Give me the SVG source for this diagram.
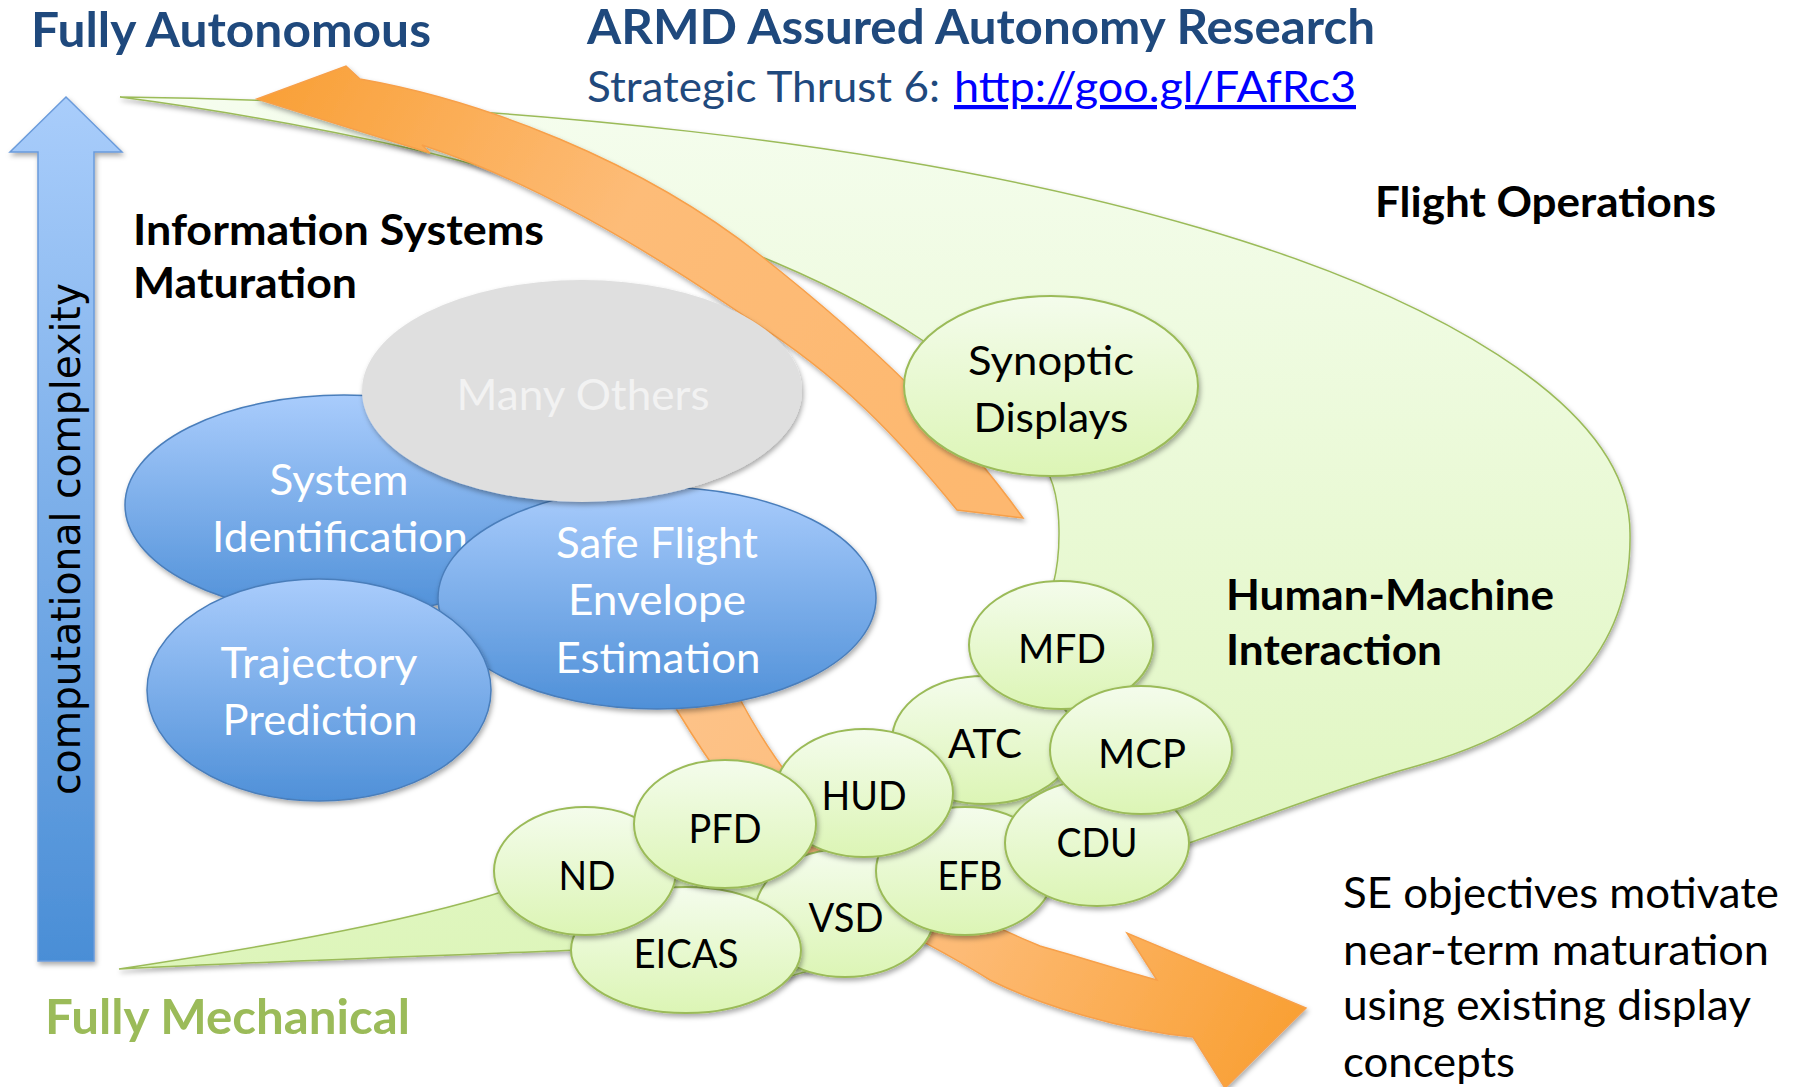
<svg xmlns="http://www.w3.org/2000/svg" width="1798" height="1087" viewBox="0 0 1798 1087">
<defs>
<style>
.t{font-family:Lato,"Open Sans","Liberation Sans",sans-serif;}
.b{font-weight:700;}
.ttl{font-size:48px;fill:#1F497D;font-weight:700;}
.sub{font-size:42px;fill:#1F497D;}
.link{font-size:42px;fill:#0000FF;text-decoration:underline;}
.hd{font-size:42px;fill:#000;font-weight:700;}
.lbw{font-size:42px;fill:#FFFFFF;}
.lbg{font-size:42px;fill:#F2F2F2;}
.lbk{font-size:41px;fill:#000;}
.body{font-size:42px;fill:#000;}
.gc{fill:url(#gGreen);stroke:#9BBB59;stroke-width:2;filter:url(#sh);}
.bc{fill:url(#gBlue);stroke:#4A7EBB;stroke-width:1.5;filter:url(#sh);}
.orange{stroke:#F7A04A;stroke-width:1.5;filter:url(#sh);}
</style>
<filter id="sh" x="-20%" y="-20%" width="140%" height="140%">
<feDropShadow dx="1.5" dy="3" stdDeviation="2.5" flood-color="#000" flood-opacity="0.33"/>
</filter>
<linearGradient id="gGreen" x1="0" y1="0" x2="0" y2="1">
<stop offset="0" stop-color="#F4FCEC"/><stop offset="1" stop-color="#DCF5B5"/>
</linearGradient>
<linearGradient id="gBlue" x1="0" y1="0" x2="0" y2="1">
<stop offset="0" stop-color="#A9CCFC"/><stop offset="1" stop-color="#4F90D8"/>
</linearGradient>
<linearGradient id="gBig" gradientUnits="userSpaceOnUse" x1="0" y1="97" x2="0" y2="970">
<stop offset="0" stop-color="#F5FDEE"/><stop offset="1" stop-color="#DDF5BA"/>
</linearGradient>
<linearGradient id="gAxis" gradientUnits="userSpaceOnUse" x1="0" y1="97" x2="0" y2="961">
<stop offset="0" stop-color="#A9CDFB"/><stop offset="1" stop-color="#4A8ED6"/>
</linearGradient>
<linearGradient id="gOrTop" gradientUnits="userSpaceOnUse" x1="257" y1="99" x2="1000" y2="500">
<stop offset="0" stop-color="#F9A037"/><stop offset="0.45" stop-color="#FDBC78"/><stop offset="1" stop-color="#FDB86F"/>
</linearGradient>
<linearGradient id="gOrBot" gradientUnits="userSpaceOnUse" x1="700" y1="700" x2="1306" y2="1008">
<stop offset="0" stop-color="#FDC287"/><stop offset="0.5" stop-color="#FDBB76"/><stop offset="1" stop-color="#F9A034"/>
</linearGradient>
</defs>
<rect width="1798" height="1087" fill="#FFFFFF"/>

<g id="flight-operations-region">
<path d="M 120 97 C 500 102, 900 140, 1200 228 C 1420 292, 1630 400, 1630 533 C 1632 650, 1560 725, 1420 765 C 1330 790, 1250 822, 1175 848 L 1120 890 L 1040 880 L 960 925 L 880 950 L 760 985 L 600 965 L 580 950 C 450 955, 250 962, 119 969 C 230 952, 400 925, 508 890 L 560 870 L 700 820 L 860 790 L 980 730 L 1050 640 L 1053 585 C 1061 555, 1062 505, 1050 477 C 1035 420, 980 380, 922 340 C 880 312, 820 280, 752 253 C 640 212, 530 178, 430 153 C 330 130, 220 110, 120 97 Z" fill="url(#gBig)" stroke="#9BBB59" stroke-width="1.5" filter="url(#sh)"/>
</g>

<g id="connectors">
<path id="arrow-autonomy" class="orange" fill="url(#gOrTop)" d="M 257 99 L 346 66 L 360 79 C 480 100, 640 160, 760 255 C 880 350, 960 430, 1023 518 L 957 510 C 900 440, 840 375, 746 317 C 640 245, 530 180, 422 145 L 430 153 Z"/>
<path id="arrow-near-term" class="orange" fill="url(#gOrBot)" d="M 665 690 L 730 680 C 760 740, 800 800, 850 840 C 885 870, 965 915, 1040 946 C 1090 960, 1125 972, 1157 980 L 1127 933 L 1306 1008 L 1225 1088 L 1193 1037 C 1120 1030, 1040 1005, 990 980 C 920 935, 830 900, 790 860 C 740 810, 700 750, 665 690 Z"/>
</g>

<g id="node-system-identification">
<ellipse class="bc" cx="344" cy="505" rx="219" ry="110"/>
<text class="t lbw" x="339" y="495" text-anchor="middle" textLength="139" lengthAdjust="spacingAndGlyphs">System</text>
<text class="t lbw" x="340" y="552" text-anchor="middle" textLength="256" lengthAdjust="spacingAndGlyphs">Identification</text>
</g>
<g id="node-safe-flight-envelope">
<ellipse class="bc" cx="657" cy="598" rx="219" ry="111"/>
<text class="t lbw" x="657" y="558" text-anchor="middle" textLength="202" lengthAdjust="spacingAndGlyphs">Safe Flight</text>
<text class="t lbw" x="657" y="615" text-anchor="middle" textLength="178" lengthAdjust="spacingAndGlyphs">Envelope</text>
<text class="t lbw" x="658" y="673" text-anchor="middle" textLength="205" lengthAdjust="spacingAndGlyphs">Estimation</text>
</g>
<g id="node-trajectory-prediction">
<ellipse class="bc" cx="319" cy="690" rx="172" ry="111"/>
<text class="t lbw" x="319" y="678" text-anchor="middle" textLength="197" lengthAdjust="spacingAndGlyphs">Trajectory</text>
<text class="t lbw" x="320" y="735" text-anchor="middle" textLength="195" lengthAdjust="spacingAndGlyphs">Prediction</text>
</g>
<g id="node-many-others">
<ellipse cx="582" cy="391" rx="220" ry="111" fill="#DFDFDF" filter="url(#sh)"/>
<text class="t lbg" x="583" y="410" text-anchor="middle" textLength="253" lengthAdjust="spacingAndGlyphs">Many Others</text>
</g>

<g id="node-synoptic-displays">
<ellipse class="gc" cx="1051" cy="386" rx="147" ry="90"/>
<text class="t lbk" x="1051" y="375" text-anchor="middle" textLength="166" lengthAdjust="spacingAndGlyphs">Synoptic</text>
<text class="t lbk" x="1051" y="432" text-anchor="middle" textLength="155" lengthAdjust="spacingAndGlyphs">Displays</text>
</g>
<g id="node-vsd">
<ellipse class="gc" cx="845" cy="913" rx="90" ry="64"/>
<text class="t lbk" x="846" y="932" text-anchor="middle" textLength="75" lengthAdjust="spacingAndGlyphs">VSD</text>
</g>
<g id="node-atc">
<ellipse class="gc" cx="984" cy="740" rx="92" ry="64"/>
<text class="t lbk" x="985" y="758" text-anchor="middle" textLength="74" lengthAdjust="spacingAndGlyphs">ATC</text>
</g>
<g id="node-efb">
<ellipse class="gc" cx="965" cy="871" rx="89" ry="64"/>
<text class="t lbk" x="970" y="890" text-anchor="middle" textLength="65" lengthAdjust="spacingAndGlyphs">EFB</text>
</g>
<g id="node-cdu">
<ellipse class="gc" cx="1097" cy="843" rx="92" ry="63"/>
<text class="t lbk" x="1097" y="857" text-anchor="middle" textLength="81" lengthAdjust="spacingAndGlyphs">CDU</text>
</g>
<g id="node-mfd">
<ellipse class="gc" cx="1061" cy="645" rx="92" ry="64"/>
<text class="t lbk" x="1062" y="663" text-anchor="middle" textLength="88" lengthAdjust="spacingAndGlyphs">MFD</text>
</g>
<g id="node-mcp">
<ellipse class="gc" cx="1141" cy="750" rx="91" ry="64"/>
<text class="t lbk" x="1142" y="768" text-anchor="middle" textLength="88" lengthAdjust="spacingAndGlyphs">MCP</text>
</g>
<g id="node-hud">
<ellipse class="gc" cx="864" cy="793" rx="89" ry="64"/>
<text class="t lbk" x="864" y="810" text-anchor="middle" textLength="85" lengthAdjust="spacingAndGlyphs">HUD</text>
</g>
<g id="node-eicas">
<ellipse class="gc" cx="686" cy="950" rx="115" ry="63"/>
<text class="t lbk" x="686" y="968" text-anchor="middle" textLength="105" lengthAdjust="spacingAndGlyphs">EICAS</text>
</g>
<g id="node-nd">
<ellipse class="gc" cx="585" cy="871" rx="91" ry="64"/>
<text class="t lbk" x="587" y="890" text-anchor="middle" textLength="57" lengthAdjust="spacingAndGlyphs">ND</text>
</g>
<g id="node-pfd">
<ellipse class="gc" cx="725" cy="824" rx="91" ry="64"/>
<text class="t lbk" x="725" y="843" text-anchor="middle" textLength="73" lengthAdjust="spacingAndGlyphs">PFD</text>
</g>

<g id="axis">
<path d="M 66 97 L 122 152 L 94 152 L 94 961 L 38 961 L 38 152 L 10 152 Z" fill="url(#gAxis)" stroke="#6A9BDB" stroke-width="1.5" filter="url(#sh)"/>
<text transform="translate(80 795) rotate(-90)" x="0" y="0" font-family="'DejaVu Sans',Verdana,sans-serif" font-size="40" fill="#000" textLength="512" lengthAdjust="spacingAndGlyphs">computational complexity</text>
</g>

<g id="labels">
<text class="t ttl" x="31" y="47" textLength="400" lengthAdjust="spacingAndGlyphs">Fully Autonomous</text>
<text class="t ttl" x="587" y="44" textLength="788" lengthAdjust="spacingAndGlyphs">ARMD Assured Autonomy Research</text>
<text class="t sub" x="587" y="102" textLength="353" lengthAdjust="spacingAndGlyphs">Strategic Thrust 6:</text>
<text class="t link" x="954" y="102" textLength="402" lengthAdjust="spacingAndGlyphs">http://goo.gl/FAfRc3</text>
<text class="t hd" x="1375" y="217" textLength="341" lengthAdjust="spacingAndGlyphs">Flight Operations</text>
<text class="t hd" x="133" y="245" textLength="411" lengthAdjust="spacingAndGlyphs">Information Systems</text>
<text class="t hd" x="133" y="298" textLength="224" lengthAdjust="spacingAndGlyphs">Maturation</text>
<text class="t hd" x="1226" y="610" textLength="328" lengthAdjust="spacingAndGlyphs">Human-Machine</text>
<text class="t hd" x="1226" y="665" textLength="216" lengthAdjust="spacingAndGlyphs">Interaction</text>
<text class="t body" x="1343" y="908" textLength="436" lengthAdjust="spacingAndGlyphs">SE objectives motivate</text>
<text class="t body" x="1343" y="965" textLength="426" lengthAdjust="spacingAndGlyphs">near-term maturation</text>
<text class="t body" x="1343" y="1020" textLength="408" lengthAdjust="spacingAndGlyphs">using existing display</text>
<text class="t body" x="1343" y="1077" textLength="172" lengthAdjust="spacingAndGlyphs">concepts</text>
<text class="t b" x="45" y="1034" font-size="48" fill="#9BBB59" textLength="365" lengthAdjust="spacingAndGlyphs">Fully Mechanical</text>
</g>
</svg>
